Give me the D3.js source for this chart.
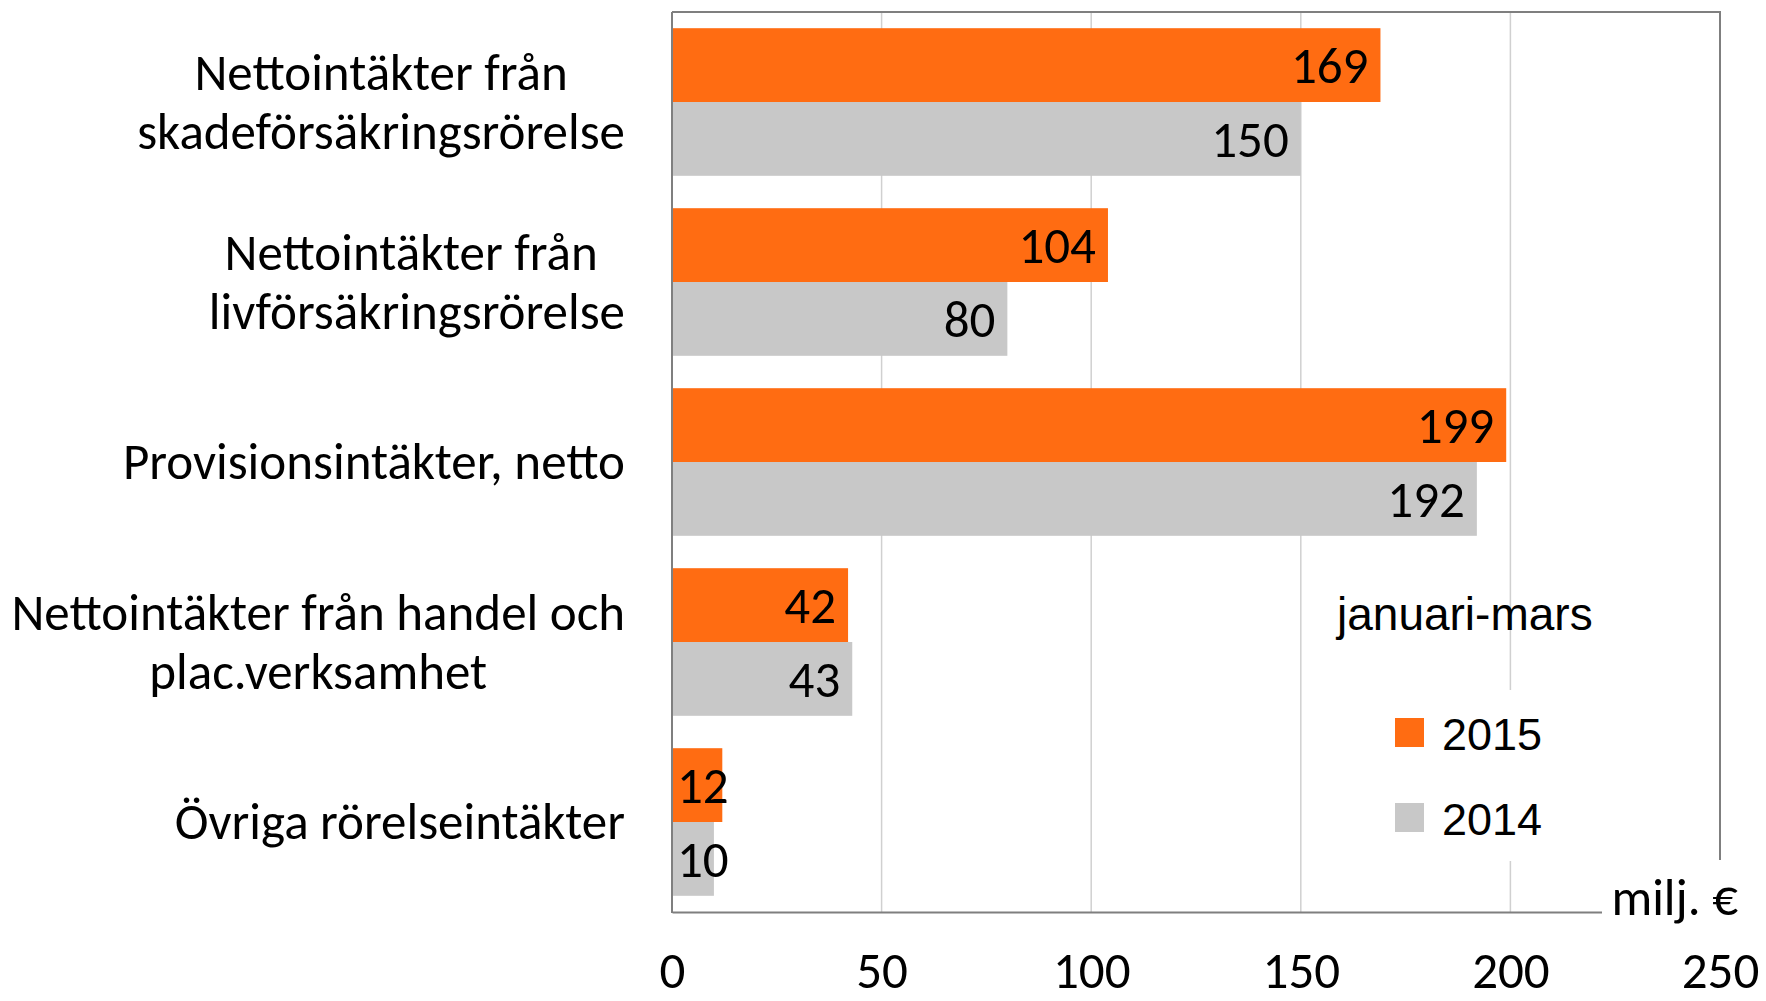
<!DOCTYPE html>
<html>
<head>
<meta charset="utf-8">
<script src="https://cdn.jsdelivr.net/npm/d3@7"></script>
<style>
  body { margin: 0; background: #fff; }
  svg { display: block; }
</style>
</head>
<body>
<div id="vis-1"></div>
<script>
// datos del gráfico
const categorias = [
  ["Nettointäkter från", "skadeförsäkringsrörelse"],
  ["Nettointäkter från ", "livförsäkringsrörelse"],
  ["Provisionsintäkter, netto"],
  ["Nettointäkter från handel och", "plac.verksamhet"],
  ["Övriga rörelseintäkter"]
];
const valores2015 = [169, 104, 199, 42, 12];
const valores2014 = [150, 80, 192, 43, 10];
const series = ["2015", "2014"];
const colores = ["#FF6C12", "#C8C8C8"];
const ticksX = [0, 50, 100, 150, 200, 250];
const unidad = "milj. €";
const tituloLeyenda = "januari-mars";

const FUENTE = "Carlito, Lato, sans-serif";
const FUENTE_LEYENDA = "'Liberation Sans', Arial, sans-serif";

function createVis1(rute) {

  const SVG = d3.select(rute)
    .append("svg")
    .attr("width", 1766)
    .attr("height", 1001);

  const escalaX = d3.scaleLinear()
    .domain([0, 250])
    .range([672, 1720]);

  const escalaY = d3.scaleBand()
    .domain(d3.range(categorias.length))
    .range([12, 912])
    .paddingInner(0.18)
    .paddingOuter(0.09);

  const escalaSerie = d3.scaleBand()
    .domain(series)
    .range([0, escalaY.bandwidth()]);

  const color = d3.scaleOrdinal().domain(series).range(colores);

  // lineas de la grilla
  SVG.append("g")
    .selectAll("line")
    .data(ticksX.slice(1))
    .join("line")
    .attr("x1", d => escalaX(d))
    .attr("x2", d => escalaX(d))
    .attr("y1", 12)
    .attr("y2", 912)
    .attr("stroke", "#d0d0d0")
    .attr("stroke-width", 1.5);

  const datos = categorias.flatMap((c, i) => [
    { i: i, serie: "2015", valor: valores2015[i] },
    { i: i, serie: "2014", valor: valores2014[i] }
  ]);

  SVG.append("g")
    .selectAll("rect")
    .data(datos)
    .join("rect")
    .attr("x", escalaX(0))
    .attr("y", d => escalaY(d.i) + escalaSerie(d.serie))
    .attr("width", d => escalaX(d.valor) - escalaX(0))
    .attr("height", escalaSerie.bandwidth())
    .attr("fill", d => color(d.serie));

  // marco superior y derecho
  SVG.append("path")
    .attr("d", `M${escalaX(0)},12H${escalaX(250)}V912`)
    .attr("fill", "none")
    .attr("stroke", "#7f7f7f")
    .attr("stroke-width", 2);

  SVG.append("line")
    .attr("x1", escalaX(0)).attr("x2", escalaX(0))
    .attr("y1", 12).attr("y2", 913)
    .attr("stroke", "#7f7f7f")
    .attr("stroke-width", 2);

  // eje X
  const ejeX = SVG.append("g")
    .attr("transform", "translate(0,912)")
    .call(d3.axisBottom(escalaX).tickValues(ticksX).tickSize(0).tickSizeOuter(0).tickPadding(40));
  ejeX.select(".domain").attr("stroke", "#7f7f7f").attr("stroke-width", 2);
  ejeX.selectAll("text")
    .attr("fill", "#000")
    .style("font-family", FUENTE)
    .style("font-size", "51px");

  // etiquetas de datos
  const etiquetas = SVG.append("g")
    .selectAll("text")
    .data(datos)
    .join("text")
    .attr("text-anchor", "end")
    .attr("y", d => escalaY(d.i) + escalaSerie(d.serie) + escalaSerie.bandwidth() / 2 + 18)
    .style("font-family", FUENTE)
    .style("font-size", "51px")
    .text(d => d.valor);
  etiquetas.attr("x", function(d) {
    const ancho = this.getComputedTextLength();
    return Math.max(escalaX(d.valor) - 12, escalaX(0) + 5 + ancho);
  });

  // etiquetas de categorias (centradas, bloque alineado a la derecha)
  const bloques = SVG.append("g")
    .selectAll("text")
    .data(categorias)
    .join("text")
    .style("font-family", FUENTE)
    .style("font-size", "51px")
    .style("white-space", "pre")
    .attr("text-anchor", "middle");

  bloques.each(function(lineas, i) {
    const t = d3.select(this);
    const alto = 59;
    const y0 = escalaY(i) + escalaY.bandwidth() / 2 - (lineas.length - 1) * alto / 2 + 17;
    const spans = t.selectAll("tspan")
      .data(lineas)
      .join("tspan")
      .attr("y", (_, k) => y0 + k * alto)
      .text(l => l);
    let maxAncho = 0;
    spans.each(function() { maxAncho = Math.max(maxAncho, this.getComputedTextLength()); });
    spans.attr("x", 625 - maxAncho / 2);
  });

  // leyenda
  SVG.append("text")
    .attr("x", 1337)
    .attr("y", 630)
    .style("font-family", FUENTE_LEYENDA)
    .style("font-size", "46px")
    .text(tituloLeyenda);

  SVG.append("rect")
    .attr("x", 1380).attr("y", 690)
    .attr("width", 210).attr("height", 171)
    .attr("fill", "#fff");

  const leyenda = SVG.append("g")
    .selectAll("g")
    .data(series)
    .join("g")
    .attr("transform", (_, i) => `translate(1395, ${718 + i * 85})`);

  leyenda.append("rect")
    .attr("width", 29)
    .attr("height", 29)
    .attr("fill", d => color(d));

  leyenda.append("text")
    .attr("x", 47)
    .attr("y", 32)
    .style("font-family", FUENTE_LEYENDA)
    .style("font-size", "45px")
    .text(d => d);

  // unidad
  SVG.append("rect")
    .attr("x", 1602).attr("y", 860)
    .attr("width", 164).attr("height", 70)
    .attr("fill", "#fff");

  SVG.append("text")
    .attr("x", 1738)
    .attr("y", 915)
    .attr("text-anchor", "end")
    .style("font-family", FUENTE)
    .style("font-size", "51px")
    .text(unidad);
}

createVis1("#vis-1");
</script>
</body>
</html>
